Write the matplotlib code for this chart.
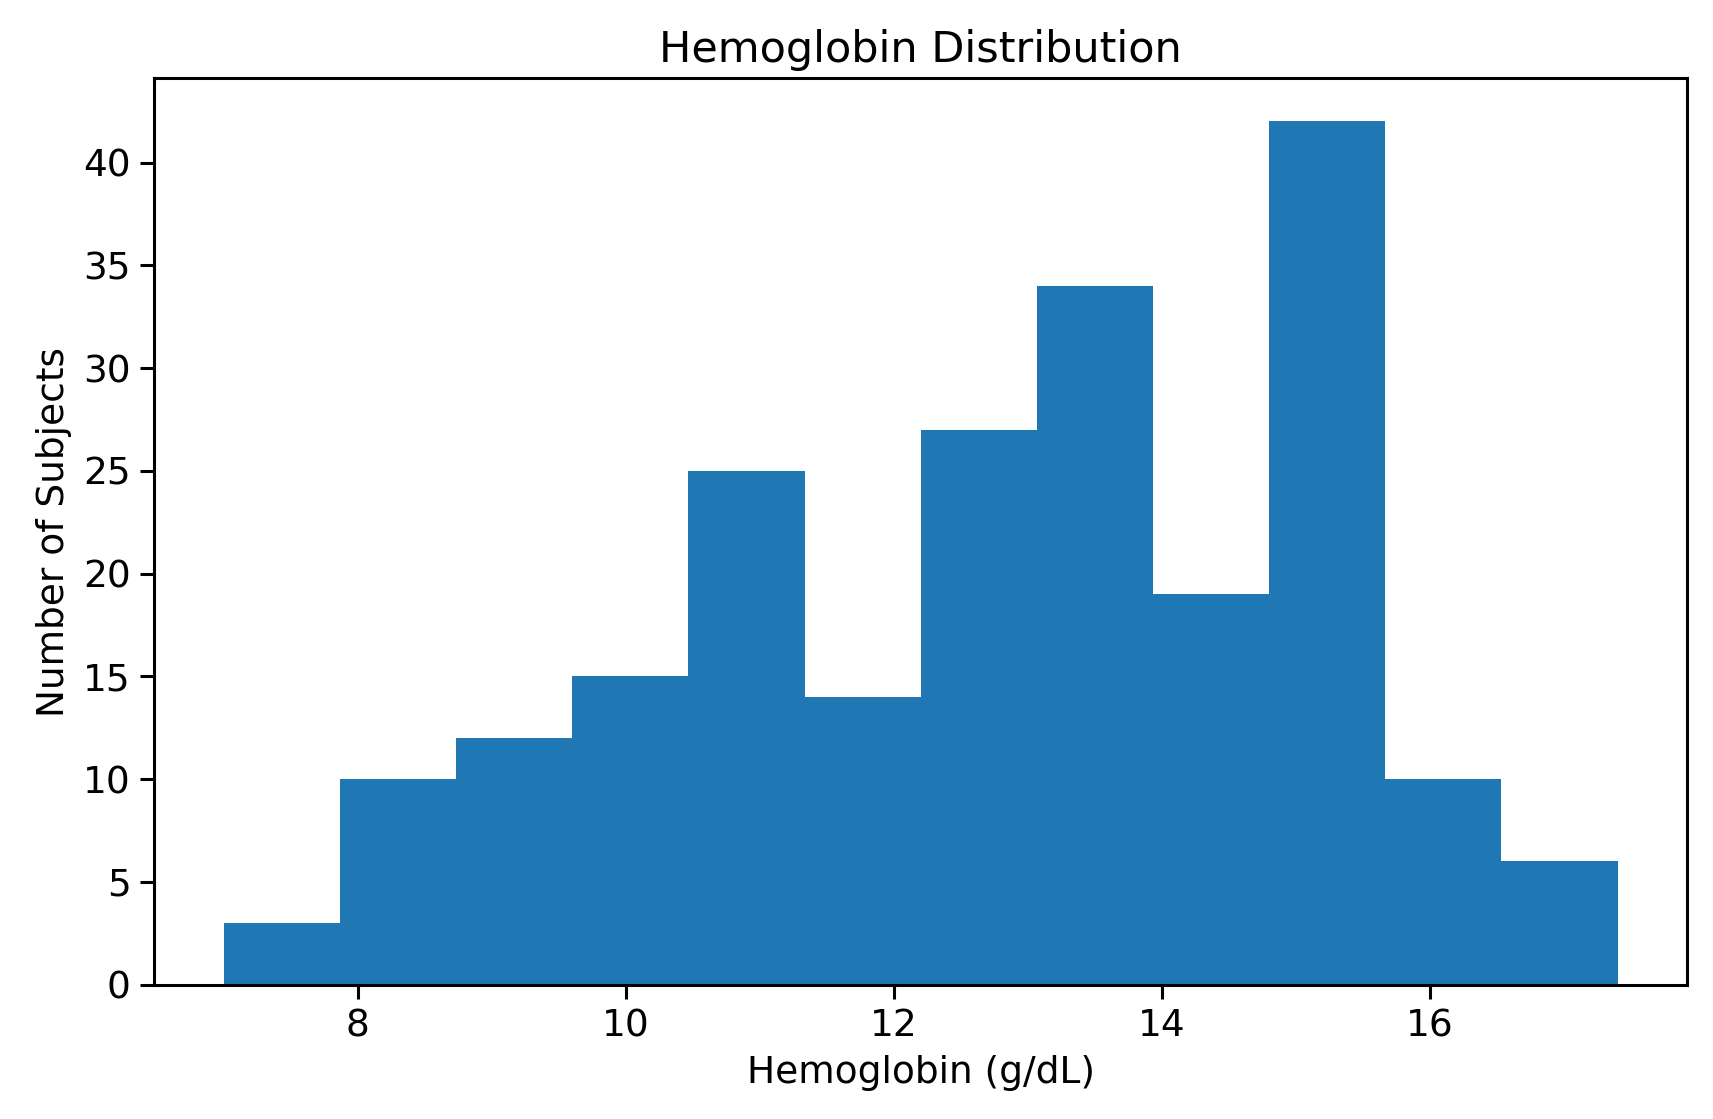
import numpy as np
import matplotlib
matplotlib.use("Agg")
import matplotlib.pyplot as plt

# histogram counts per bin
counts = [3, 10, 12, 15, 25, 14, 27, 34, 19, 42, 10, 6]
hb_min = 7.0
hb_max = 17.4

edges = np.linspace(hb_min, hb_max, len(counts) + 1)
centers = (edges[:-1] + edges[1:]) / 2

fig = plt.figure(figsize=(1713 / 200, 1119 / 200), dpi=200)
ax = fig.add_axes([0.090, 0.120, 0.895, 0.810])
ax.hist(centers, bins=edges, weights=counts, color="#1f77b4")
ax.set_title("Hemoglobin Distribution", fontsize=15.5)
ax.set_xlabel("Hemoglobin (g/dL)", fontsize=13.5)
ax.set_ylabel("Number of Subjects", fontsize=13.5)
ax.tick_params(labelsize=13.5, width=1.1, length=5)
for s in ax.spines.values():
    s.set_linewidth(1.1)

fig.savefig("out.png", dpi=200)
